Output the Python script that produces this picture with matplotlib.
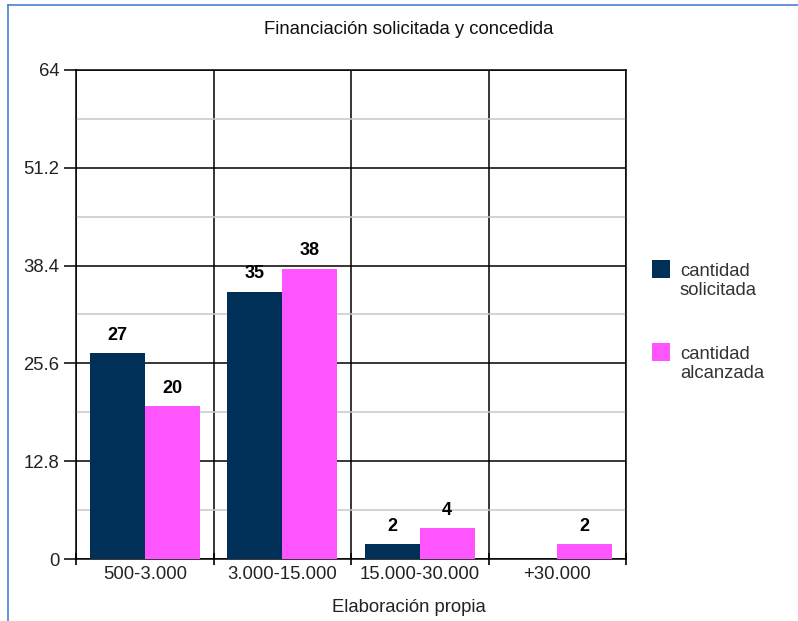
import matplotlib.pyplot as plt
import numpy as np
from matplotlib.lines import Line2D
from matplotlib.patches import Rectangle

plt.rcParams['font.family'] = ['Liberation Sans', 'DejaVu Sans']

# datos del gráfico
categorias = ['500-3.000', '3.000-15.000', '15.000-30.000', '+30.000']
solicitada = [27, 35, 2, 0]
alcanzada = [20, 38, 4, 2]
ticks_y = [0, 12.8, 25.6, 38.4, 51.2, 64]
series = ['cantidad\nsolicitada', 'cantidad\nalcanzada']

color_sol = '#003057'
color_alc = '#ff55ff'

W, H = 798, 621
fig = plt.figure(figsize=(W / 100, H / 100), dpi=100)
ax = fig.add_axes([76 / W, 1 - 559 / H, 550 / W, 489 / H])

x = np.arange(len(categorias)) + 0.5
ancho = 0.4
b1 = ax.bar(x - ancho / 2, solicitada, ancho, color=color_sol, zorder=3)
b2 = ax.bar(x + ancho / 2, alcanzada, ancho, color=color_alc, zorder=3)

for barras, vals in [(b1, solicitada), (b2, alcanzada)]:
    for b, v in zip(barras, vals):
        if v == 0:
            continue
        ax.text(b.get_x() + b.get_width() / 2, v + 1.2, str(v), ha='center', va='bottom',
                fontsize=13, fontweight='bold', zorder=4)

ax.set_xlim(0, len(categorias))
ax.set_ylim(0, 64)

# líneas verticales entre categorías
ax.set_xticks(np.arange(len(categorias) + 1))
ax.set_xticklabels([])
ax.set_xticks(x, minor=True)
ax.set_xticklabels(categorias, minor=True, fontsize=13.3, color='#222222')
ax.tick_params(axis='x', which='major', length=9, width=1.2, direction='inout')
ax.tick_params(axis='x', which='minor', length=0, pad=5)
ax.grid(axis='x', which='major', color='black', linewidth=1.1, zorder=1)

ax.set_yticks(ticks_y)
ax.set_yticklabels(['0', '12.8', '25.6', '38.4', '51.2', '64'], fontsize=13.3, color='#222222')
ax.set_yticks(np.arange(6.4, 64, 12.8), minor=True)
ax.tick_params(axis='y', which='major', length=9, width=1.1, pad=3)
ax.tick_params(axis='y', which='minor', length=0)
ax.grid(axis='y', which='major', color='black', linewidth=1.1, zorder=1)
ax.grid(axis='y', which='minor', color='#c8c8c8', linewidth=1.1, zorder=1)

for s in ax.spines.values():
    s.set_linewidth(1.1)
    s.set_color('black')

fig.text(409 / W, 1 - 30 / H, 'Financiación solicitada y concedida', fontsize=13.3,
         ha='center', va='center', color='#111111')
fig.text(409 / W, 1 - 607 / H, 'Elaboración propia', fontsize=13.3,
         ha='center', va='center', color='#222222')

# leyenda
for i, (nombre, col) in enumerate(zip(series, [color_sol, color_alc])):
    y0 = 260 + i * 83
    fig.add_artist(Rectangle((652 / W, 1 - (y0 + 18) / H), 18 / W, 18 / H,
                             transform=fig.transFigure, facecolor=col, edgecolor='none'))
    fig.text(680 / W, 1 - (y0 + 21) / H, nombre, fontsize=13.3, ha='left', va='center',
             color='#333333', linespacing=1.15)

# borde azul de la figura
fig.add_artist(Line2D([8 / W, 8 / W], [0, 1 - 5 / H], color='#4a7fd4', linewidth=1.2))
fig.add_artist(Line2D([8 / W, 1], [1 - 5 / H, 1 - 5 / H], color='#4a7fd4', linewidth=1.2))

fig.savefig('out.png', dpi=100)
